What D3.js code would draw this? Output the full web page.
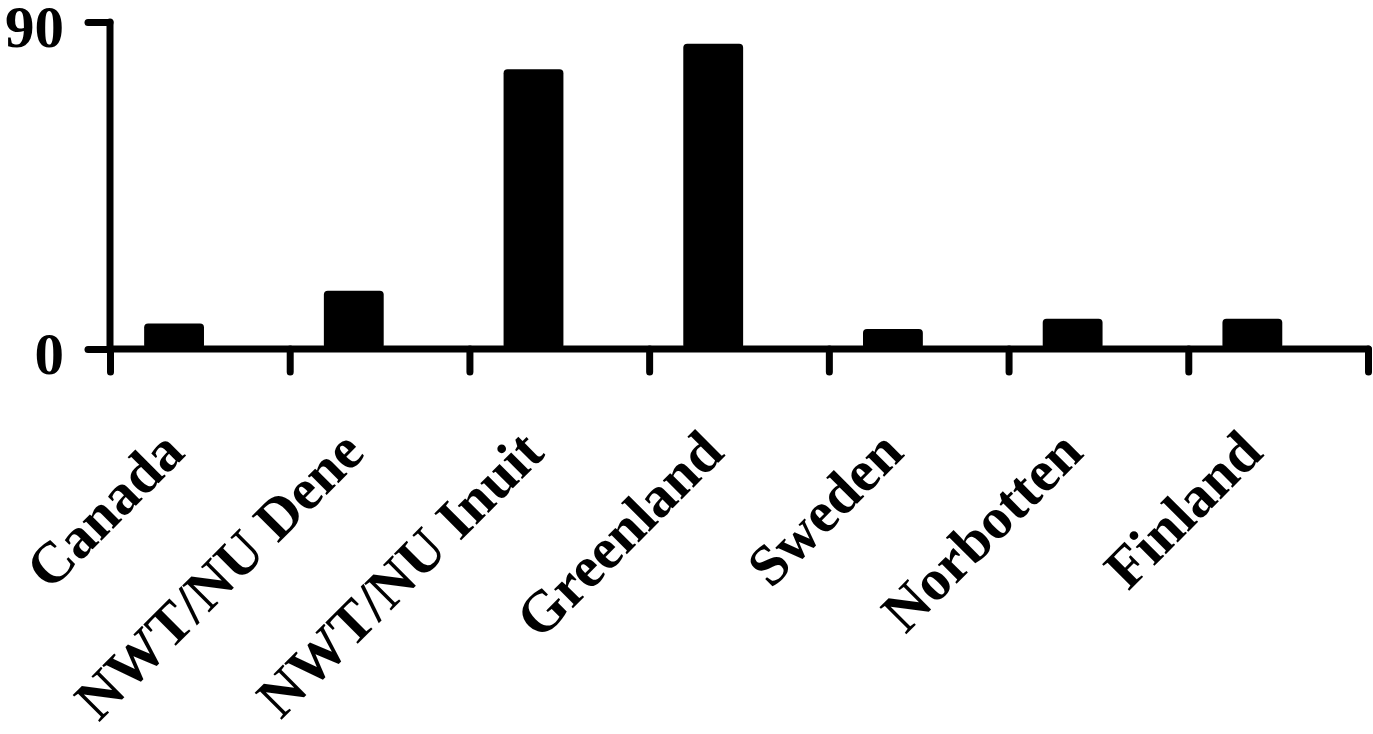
<!DOCTYPE html>
<html>
<head>
<meta charset="utf-8">
<script src="https://cdn.jsdelivr.net/npm/d3@7"></script>
<style>
html,body{margin:0;padding:0;background:#fff;}
</style>
</head>
<body>
<svg id="chart" width="1373" height="734"></svg>
<script>
const categories = ["Canada","NWT/NU Dene","NWT/NU Inuit","Greenland","Sweden","Norbotten","Finland"];
const values = [7, 16, 77, 84, 5.5, 8.3, 8.3];
const yTicks = [0, 90];

(function () {
const FONT = "'Liberation Serif', 'Times New Roman', Times, serif";
const svg = d3.select("#chart");
const mLeft = 110, mRight = 1368, mTop = 22, mBottom = 349;

const x = d3.scaleBand().domain(categories).range([mLeft, mRight]).padding(0);
const xb = d3.scaleLinear().domain([0, categories.length]).range([mLeft, mRight]);
const y = d3.scaleLinear().domain([0, 90]).range([mBottom, mTop]);

// bars
svg.append("g").selectAll("rect").data(categories).join("rect")
  .attr("x", d => x(d) + x.bandwidth() * 0.19)
  .attr("width", x.bandwidth() * 0.333)
  .attr("y", (d, i) => y(values[i]))
  .attr("height", (d, i) => mBottom - y(values[i]))
  .attr("rx", 4).attr("ry", 4)
  .attr("fill", "#000");

// x axis
const gx = svg.append("g").attr("transform", `translate(0,${mBottom})`)
  .call(d3.axisBottom(xb).tickValues(d3.range(categories.length + 1)).tickSize(23).tickSizeOuter(0).tickFormat(""));
gx.select(".domain").attr("stroke", "#000").attr("stroke-width", 7).attr("stroke-linecap", "round")
  .attr("d", `M${mLeft},0H${mRight}`);
gx.selectAll(".tick line").attr("stroke", "#000").attr("stroke-width", 7).attr("stroke-linecap", "round");

// y axis
const gy = svg.append("g").attr("transform", `translate(${mLeft},0)`)
  .call(d3.axisLeft(y).tickValues(yTicks).tickSize(22).tickSizeOuter(0).tickPadding(24));
gy.select(".domain").attr("stroke", "#000").attr("stroke-width", 7).attr("stroke-linecap", "round")
  .attr("d", `M0,${mTop}V${mBottom}`);
gy.selectAll(".tick line").attr("stroke", "#000").attr("stroke-width", 7).attr("stroke-linecap", "round");
gy.selectAll(".tick text")
  .attr("font-family", FONT).attr("font-weight", "bold").attr("font-size", 59)
  .attr("fill", "#000").attr("dy", "0.42em");

// category labels
svg.append("g").selectAll("text").data(categories).join("text")
  .attr("transform", d => `translate(${x(d) + x.bandwidth() / 2 - 13},455) rotate(-45)`)
  .attr("text-anchor", "end")
  .attr("font-family", FONT).attr("font-weight", "bold").attr("font-size", 58)
  .attr("fill", "#000")
  .text(d => d);
})();
</script>
</body>
</html>
